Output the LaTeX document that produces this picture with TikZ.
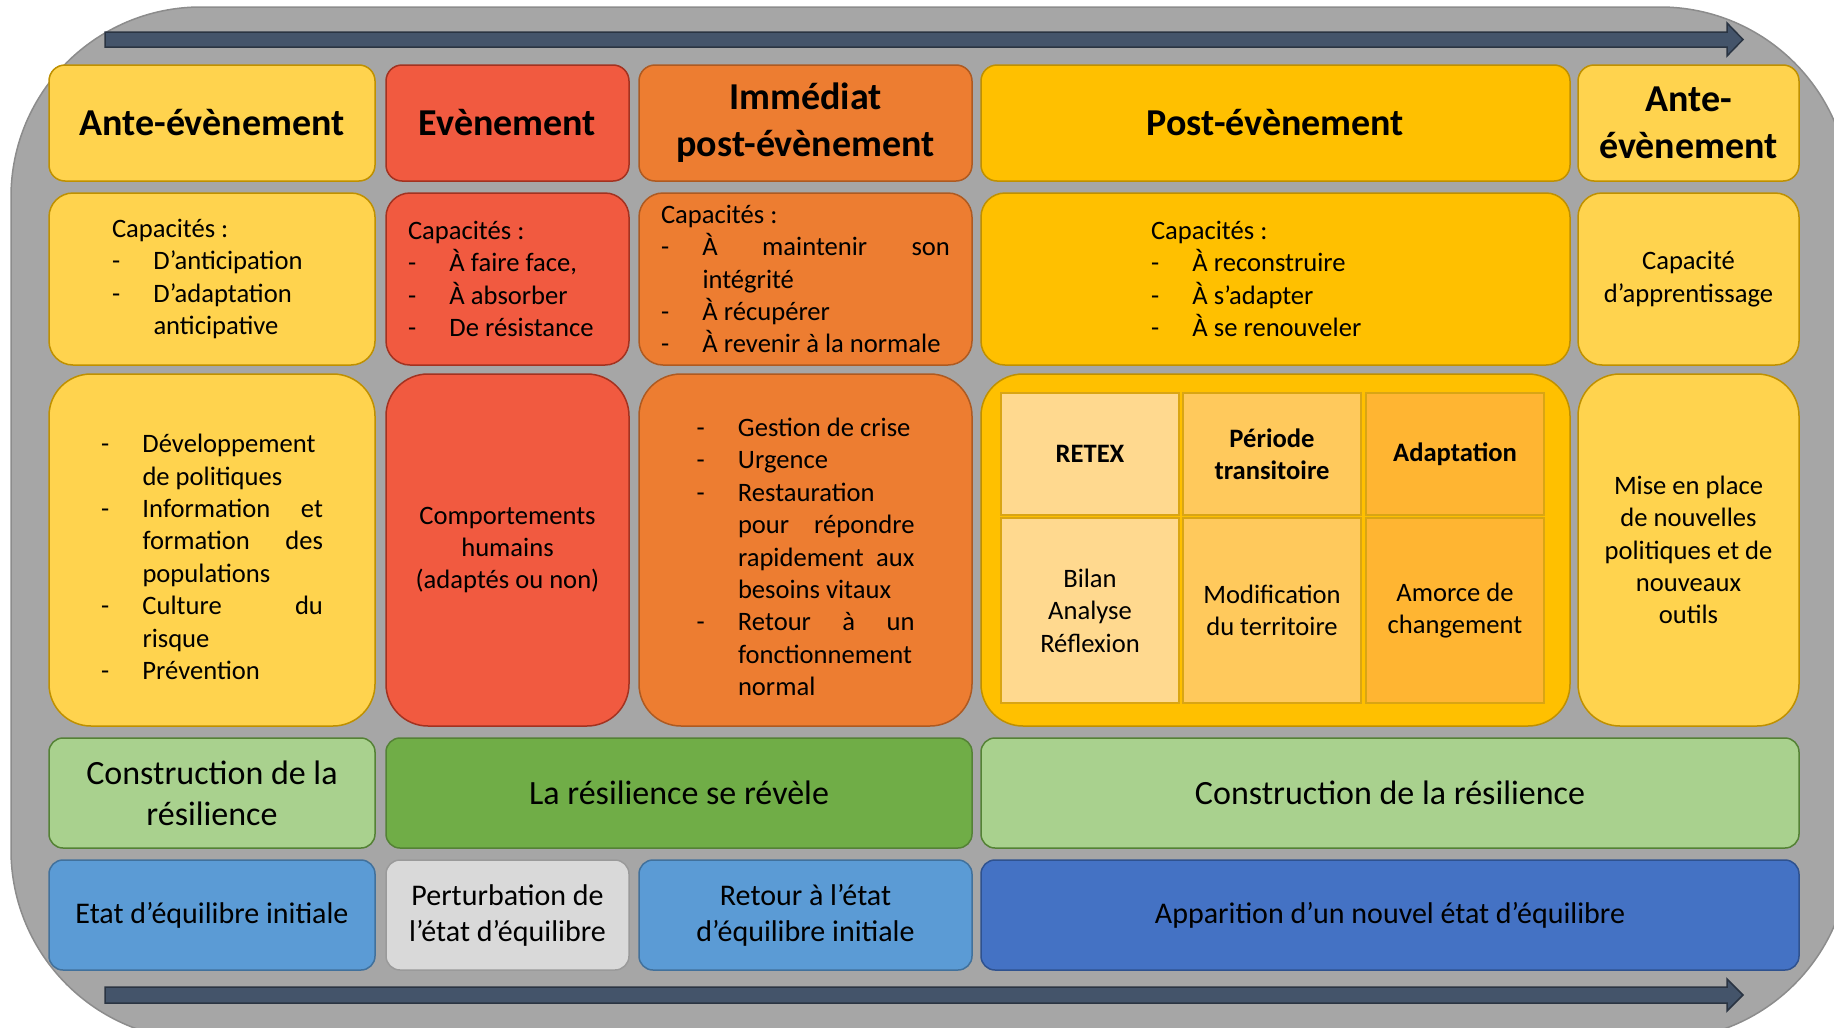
\documentclass[tikz,border=0pt]{standalone}
\usepackage{fontspec}
\setmainfont{Carlito}
\usepackage{xcolor}
\definecolor{bggray}{HTML}{A6A6A6}
\definecolor{grayline}{HTML}{8C8C8C}
\definecolor{antey}{HTML}{FFD34E}
\definecolor{goldline}{HTML}{BF9000}
\definecolor{evtred}{HTML}{F15A40}
\definecolor{redline}{HTML}{A33220}
\definecolor{immorange}{HTML}{ED7D31}
\definecolor{orangeline}{HTML}{AE5A21}
\definecolor{postgold}{HTML}{FFC000}
\definecolor{cella}{HTML}{FFD98F}
\definecolor{cellb}{HTML}{FFC95C}
\definecolor{cellc}{HTML}{FFB532}
\definecolor{cellline}{HTML}{D9A514}
\definecolor{lightgreen}{HTML}{A9D18E}
\definecolor{darkgreen}{HTML}{70AD47}
\definecolor{greenline}{HTML}{548235}
\definecolor{midblue}{HTML}{5B9BD5}
\definecolor{blueline}{HTML}{41719C}
\definecolor{darkblue}{HTML}{4472C4}
\definecolor{navyline}{HTML}{2F528F}
\definecolor{lightgray}{HTML}{D9D9D9}
\definecolor{pgrayline}{HTML}{9A9A9A}
\definecolor{slate}{HTML}{44546A}
\definecolor{slateline}{HTML}{2A3442}

\newcommand\headfont{\fontsize{38}{47}\selectfont\bfseries}
\newcommand\itemfont{\fontsize{26.6}{32.4}\selectfont}
\newcommand\bandfont{\fontsize{34}{41}\selectfont}
\newcommand\statefont{\fontsize{30}{36}\selectfont}

\setlength\parindent{0pt}
\hyphenpenalty=10000
\exhyphenpenalty=10000
\tolerance=10000
\hbadness=10000
\newlength\tiretw
\setlength\tiretw{41.5pt}
\newcommand\tiret[1]{\par\hangindent=\tiretw\hangafter=1\noindent\makebox[\tiretw][l]{-}#1\par}

\begin{document}
\begin{tikzpicture}[
  x=1pt, y=-1pt,
  box/.style={draw, line width=1.5pt, inner sep=0pt, align=center},
  hdbox/.style={box, rounded corners=16pt, minimum height=116pt, font=\headfont},
  capbox/.style={box, rounded corners=24pt, minimum height=172pt, font=\itemfont},
  listbox/.style={box, rounded corners=42pt, minimum height=352pt, font=\itemfont},
  bandbox/.style={box, rounded corners=14pt, minimum height=110pt, font=\bandfont},
  statebox/.style={box, rounded corners=14pt, minimum height=110pt, font=\statefont},
  gridcell/.style={draw=cellline, line width=1.5pt, minimum width=178pt, inner sep=0pt, align=center, font=\itemfont},
  antec/.style={fill=antey, draw=goldline},
  evtc/.style={fill=evtred, draw=redline},
  immc/.style={fill=immorange, draw=orangeline},
  postc/.style={fill=postgold, draw=goldline},
  lgreen/.style={fill=lightgreen, draw=greenline},
  dgreen/.style={fill=darkgreen, draw=greenline},
  mblue/.style={fill=midblue, draw=blueline},
  dblue/.style={fill=darkblue, draw=navyline},
  lgray/.style={fill=lightgray, draw=pgrayline},
  timearrow/.style={fill=slate, draw=slateline, line width=1.5pt}
]
\useasboundingbox (0,0) rectangle (1834,1028);
\clip (0,0) rectangle (1834,1028);

\draw[fill=bggray, draw=grayline, line width=1.5pt, rounded corners=190pt] (11,7) rectangle (1850,1040);

% time arrows
\draw[timearrow] (105,32) -- (1727,32) -- (1727,23) -- (1743,39.5) -- (1727,56) -- (1727,47) -- (105,47) -- cycle;
\draw[timearrow] (105,987) -- (1727,987) -- (1727,979) -- (1743,995) -- (1727,1011) -- (1727,1003) -- (105,1003) -- cycle;

% phases
\node[hdbox, antec, minimum width=326pt] (ante) at (212,123) {Ante-évènement};
\node[hdbox, evtc, minimum width=243pt] (evt) at (507.5,123) {Evènement};
\node[hdbox, immc, minimum width=333pt] (imm) at (805.5,123) {Immédiat\\post-évènement};
\node[hdbox, postc, minimum width=589pt] (post) at (1275.5,123) {Post-évènement};
\node[hdbox, antec, minimum width=221pt] (ante2) at (1688.5,123) {Ante-\\évènement};

% capacities
\node[capbox, antec, minimum width=326pt, text width=200pt, align=justify] (antecap) at (212,279)
  {Capacités :\tiret{D’anticipation}\tiret{D’adaptation anticipative}};
\node[capbox, evtc, minimum width=243pt, text width=199pt, align=justify] (evtcap) at (507.5,279)
  {Capacités :\tiret{À faire face,}\tiret{À absorber}\tiret{De résistance}};
\node[capbox, immc, minimum width=333pt, text width=289pt, align=justify] (immcap) at (805.5,279)
  {Capacités :\tiret{À maintenir son intégrité}\tiret{À récupérer}\tiret{À revenir à la normale}};
\node[capbox, postc, minimum width=589pt, text width=249pt, align=justify] (postcap) at (1275.5,279)
  {Capacités :\tiret{À reconstruire}\tiret{À s’adapter}\tiret{À se renouveler}};
\node[capbox, antec, minimum width=221pt] (ante2cap) at (1688.5,279) {Capacité\\d’apprentissage};

% actions
\node[listbox, antec, minimum width=326pt, text width=222pt, align=justify] (antetxt) at (212,550)
  {\tiret{Développement de politiques}\tiret{Information et formation des populations}\tiret{Culture du risque}\tiret{Prévention}};
\node[listbox, evtc, minimum width=243pt] (evttxt) at (507.5,550) {Comportements\\humains\\(adaptés ou non)};
\node[listbox, immc, minimum width=333pt, text width=218pt, align=justify] (immtxt) at (805.5,550)
  {\tiret{Gestion de crise}\tiret{Urgence}\tiret{Restauration pour répondre rapidement aux besoins vitaux}\tiret{Retour à un fonctionnement normal}};
\node[listbox, postc, minimum width=589pt] (posttxt) at (1275.5,550) {};
\node[listbox, antec, minimum width=221pt] (ante2txt) at (1688.5,550) {Mise en place\\de nouvelles\\politiques et de\\nouveaux\\outils};

% post-event grid
\node[gridcell, fill=cella, minimum height=122pt, font=\itemfont\bfseries] (retex) at (1090,454) {RETEX};
\node[gridcell, fill=cellb, minimum height=122pt, font=\itemfont\bfseries] (periode) at (1272,454) {Période\\transitoire};
\node[gridcell, fill=cellc, minimum height=122pt, font=\itemfont\bfseries] (adapt) at (1455,454) {Adaptation};
\node[gridcell, fill=cella, minimum height=185pt] (bilan) at (1090,610.5) {Bilan\\Analyse\\Réflexion};
\node[gridcell, fill=cellb, minimum height=185pt] (modif) at (1272,610.5) {Modification\\du territoire};
\node[gridcell, fill=cellc, minimum height=185pt] (amorce) at (1455,610.5) {Amorce de\\changement};

% resilience
\node[bandbox, lgreen, minimum width=326pt] (constr1) at (212,793) {Construction de la\\résilience};
\node[bandbox, dgreen, minimum width=586pt] (revele) at (679,793) {La résilience se révèle};
\node[bandbox, lgreen, minimum width=818pt] (constr2) at (1390,793) {Construction de la résilience};

% equilibrium states
\node[statebox, mblue, minimum width=326pt] (etat) at (212,915) {Etat d’équilibre initiale};
\node[statebox, lgray, minimum width=243pt] (perturb) at (507.5,915) {Perturbation de\\l’état d’équilibre};
\node[statebox, mblue, minimum width=333pt] (retour) at (805.5,915) {Retour à l’état\\d’équilibre initiale};
\node[statebox, dblue, minimum width=818pt] (nouvel) at (1390,915) {Apparition d’un nouvel état d’équilibre};

\end{tikzpicture}
\end{document}
